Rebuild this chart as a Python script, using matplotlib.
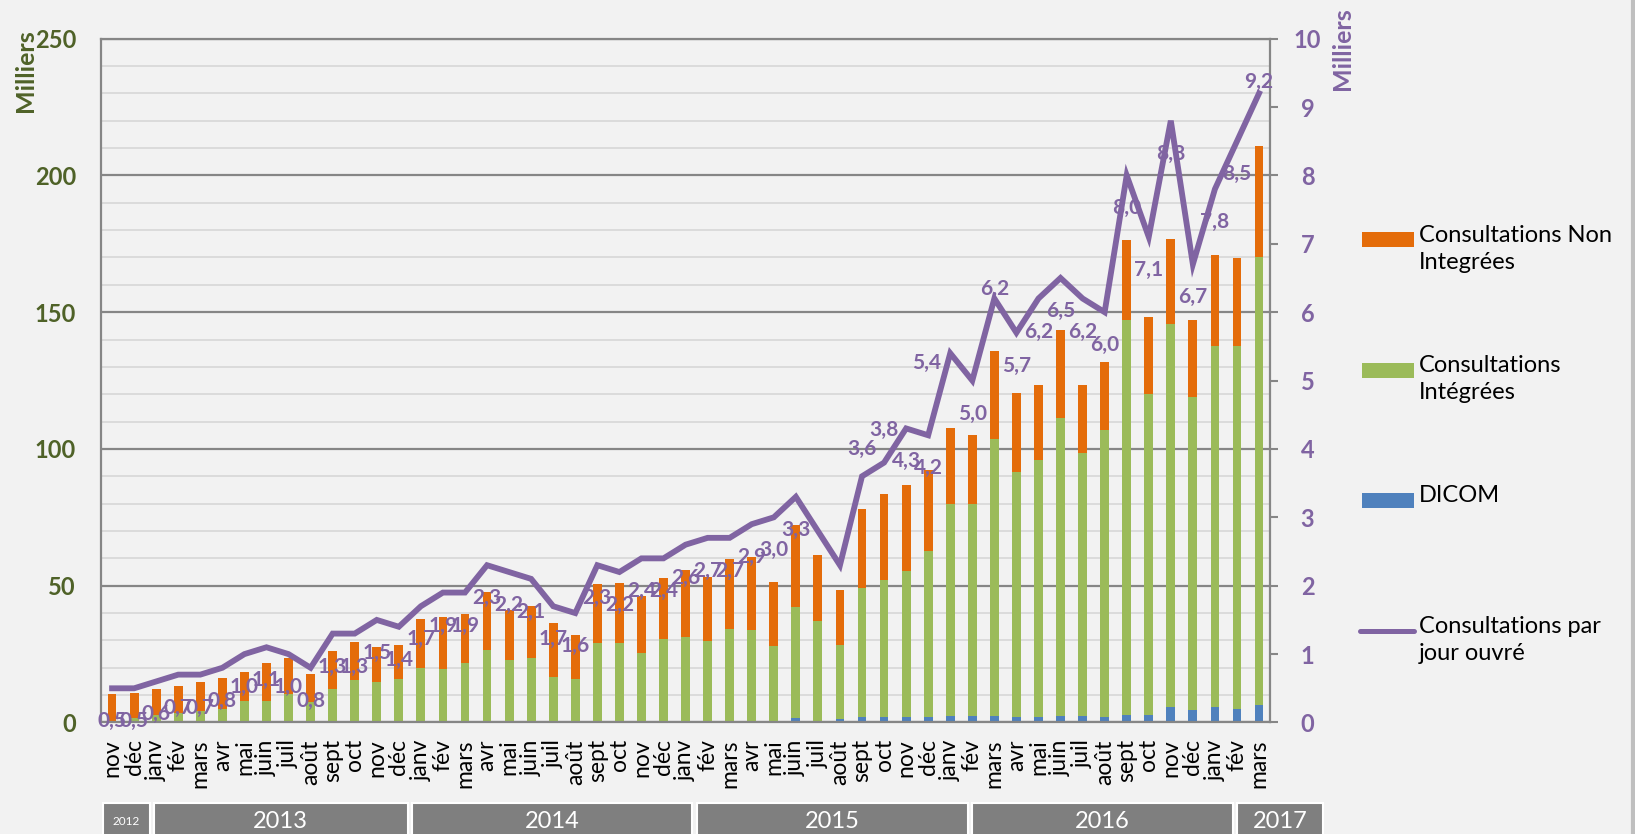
import matplotlib
matplotlib.use("Agg")
import matplotlib.pyplot as plt
import numpy as np
from matplotlib.patches import Rectangle
from matplotlib.lines import Line2D
from matplotlib.ticker import MultipleLocator
from matplotlib import transforms

plt.rcParams['font.family'] = ['Lato', 'DejaVu Sans']

# mois de nov 2012 à mars 2017
mois = ['nov', 'déc',
        'janv', 'fév', 'mars', 'avr', 'mai', 'juin', 'juil', 'août', 'sept', 'oct', 'nov', 'déc',
        'janv', 'fév', 'mars', 'avr', 'mai', 'juin', 'juil', 'août', 'sept', 'oct', 'nov', 'déc',
        'janv', 'fév', 'mars', 'avr', 'mai', 'juin', 'juil', 'août', 'sept', 'oct', 'nov', 'déc',
        'janv', 'fév', 'mars', 'avr', 'mai', 'juin', 'juil', 'août', 'sept', 'oct', 'nov', 'déc',
        'janv', 'fév', 'mars']
annees = ['2012', '2013', '2014', '2015', '2016', '2017']

# en milliers
dicom = [0, 0,
         0, 0, 0, 0, 0, 0, 0, 0, 0, 0, 0, 0,
         0, 0, 0, 0, 0, 0, 0, 0, 0, 0, 0, 0,
         0, 0, 0, 0, 0, 1.7, 0, 1.4, 1.9, 1.9, 1.9, 2.1,
         2.4, 2.4, 2.4, 1.9, 2.1, 2.4, 2.4, 2.1, 2.6, 2.6, 5.6, 4.6,
         5.5, 5.1, 6.4]
integrees = [0.4, 1.5,
             2.9, 3.5, 4.2, 5.1, 7.7, 7.7, 10.4, 7.6, 12.3, 15.6, 14.8, 15.9,
             19.8, 19.6, 21.9, 26.4, 22.9, 23.7, 16.8, 15.9, 28.9, 29.1, 25.4, 30.6,
             31.3, 29.9, 34.0, 33.9, 28.0, 40.5, 37.2, 27.1, 47.2, 50.1, 53.4, 60.6,
             77.5, 77.5, 101.2, 89.8, 93.7, 108.9, 96.2, 105.0, 144.6, 117.6, 139.9, 114.4,
             132.3, 132.6, 163.8]
non_integrees = [9.9, 9.4,
                 9.4, 9.8, 10.7, 11.3, 10.8, 14.1, 13.3, 10.1, 14.0, 13.9, 12.9, 12.3,
                 17.9, 18.9, 17.6, 21.4, 18.3, 19.0, 19.6, 16.1, 21.7, 22.0, 20.7, 22.3,
                 24.3, 23.4, 25.6, 26.7, 23.2, 29.9, 24.1, 20.1, 29.1, 31.6, 31.4, 29.5,
                 27.7, 25.1, 32.1, 28.7, 27.5, 32.1, 24.7, 24.5, 29.0, 28.2, 31.1, 28.0,
                 33.2, 32.1, 40.7]
par_jour = [0.5, 0.5,
            0.6, 0.7, 0.7, 0.8, 1.0, 1.1, 1.0, 0.8, 1.3, 1.3, 1.5, 1.4,
            1.7, 1.9, 1.9, 2.3, 2.2, 2.1, 1.7, 1.6, 2.3, 2.2, 2.4, 2.4,
            2.6, 2.7, 2.7, 2.9, 3.0, 3.3, 2.8, 2.3, 3.6, 3.8, 4.3, 4.2,
            5.4, 5.0, 6.2, 5.7, 6.2, 6.5, 6.2, 6.0, 8.0, 7.1, 8.8, 6.7,
            7.8, 8.5, 9.2]
sans_etiquette = [32, 33]

ORANGE = '#E46C0A'
VERT = '#9BBB59'
BLEU = '#4F81BD'
VIOLET = '#8064A2'
VERT_TXT = '#4F6228'
FOND = '#F2F2F2'
GRIS = '#868686'

# limites du bandeau des années (en unités de catégories, dessiné à la main dans l'original)
bornes_annees = [-0.5, 1.8, 13.5, 26.4, 38.9, 50.9, 55.0]

fig = plt.figure(figsize=(16.35, 8.34), dpi=100, facecolor=FOND)
ax = fig.add_axes([0.0618, 0.1337, 0.7150, 0.8200])
ax.set_facecolor(FOND)
x = np.arange(len(mois))
w = 0.4

d = np.array(dicom)
g = np.array(integrees)
n = np.array(non_integrees)
ax.bar(x, d, w, color=BLEU, zorder=2)
ax.bar(x, g, w, bottom=d, color=VERT, zorder=2)
ax.bar(x, n, w, bottom=d + g, color=ORANGE, zorder=2)

ax.set_xlim(-0.5, len(mois) - 0.5)
ax.set_ylim(0, 250)
ax.yaxis.set_major_locator(MultipleLocator(50))
ax.yaxis.set_minor_locator(MultipleLocator(10))
ax.grid(which='minor', axis='y', color='#D9D9D9', lw=1.3, zorder=0)
ax.grid(which='major', axis='y', color=GRIS, lw=1.6, zorder=0.5)
ax.set_axisbelow(True)
for s in ['top', 'bottom', 'left']:
    ax.spines[s].set_color(GRIS)
    ax.spines[s].set_linewidth(1.6)
ax.spines['right'].set_visible(False)
ax.tick_params(axis='y', which='both', length=0, pad=18, labelsize=17, labelcolor=VERT_TXT)
for lab in ax.get_yticklabels():
    lab.set_fontweight('bold')
ax.set_xticks(x)
ax.set_xticklabels(mois, rotation=90, fontsize=16.5)
ax.tick_params(axis='x', length=0, pad=12)

ax2 = ax.twinx()
ax2.plot(x, par_jour, color=VIOLET, lw=4.2, solid_joinstyle='miter', zorder=3)
ax2.set_ylim(0, 10)
ax2.yaxis.set_major_locator(MultipleLocator(1))
for s in ['top', 'bottom', 'left']:
    ax2.spines[s].set_visible(False)
ax2.spines['right'].set_color(GRIS)
ax2.spines['right'].set_linewidth(1.6)
ax2.tick_params(axis='y', length=6, width=1.5, color=GRIS, pad=21, labelsize=17, labelcolor=VIOLET)
for lab in ax2.get_yticklabels():
    lab.set_fontweight('bold')
    lab.set_horizontalalignment('center')

# étiquettes de la courbe (position "dessous" sauf quelques-unes)
decalages = {34: (0, 27), 35: (0, 33), 38: (-24, -10), 40: (0, 10), 52: (0, 11)}
for i, v in enumerate(par_jour):
    if i in sans_etiquette:
        continue
    dx, dy = decalages.get(i, (0, -33))
    ax2.annotate(f"{v:.1f}".replace('.', ','), (i, v), xytext=(dx, dy),
                 textcoords='offset pixels', ha='center', va='center',
                 fontsize=15, fontweight='bold', color=VIOLET, zorder=4)

fig.text(0.0155, 0.915, 'Milliers', rotation=90, ha='center', va='center',
         fontsize=18, fontweight='bold', color=VERT_TXT)
fig.text(0.821, 0.942, 'Milliers', rotation=90, ha='center', va='center',
         fontsize=18, fontweight='bold', color=VIOLET)

# bandeau des années
trans = transforms.blended_transform_factory(ax.transData, fig.transFigure)
for k, an in enumerate(annees):
    gauche, droite = bornes_annees[k], bornes_annees[k + 1]
    ax.add_patch(Rectangle((gauche + 0.1, -0.01), droite - gauche - 0.2, 0.047,
                           transform=trans, facecolor='#7F7F7F', edgecolor='white',
                           lw=1.5, clip_on=False))
    ax.text((gauche + droite) / 2, 0.015, an, transform=trans, ha='center', va='center',
            color='white', fontsize=8.5 if k == 0 else 17)

# légende
leg_y = [240, 370, 500, 631]
leg_txt = ['Consultations Non\nIntegrées', 'Consultations\nIntégrées', 'DICOM',
           'Consultations par\njour ouvré']
leg_col = [ORANGE, VERT, BLEU, VIOLET]
for k in range(4):
    yf = 1 - leg_y[k] / 834
    if k < 3:
        fig.patches.append(Rectangle((1362 / 1635, yf - 7.5 / 834), 52 / 1635, 15 / 834,
                                     transform=fig.transFigure, facecolor=leg_col[k],
                                     edgecolor='none'))
    else:
        fig.lines.append(Line2D([1360 / 1635, 1414 / 1635], [yf, yf], transform=fig.transFigure,
                                color=VIOLET, lw=3.6, solid_capstyle='round'))
    fig.text(1419 / 1635, yf + 15 / 834, leg_txt[k], ha='left', va='top', fontsize=17,
             linespacing=1.35, color='black')

fig.lines.append(Line2D([0.9985, 0.9985], [0, 1], transform=fig.transFigure,
                        color='#BFBFBF', lw=3))

fig.savefig('out.png', dpi=100, facecolor=FOND)
